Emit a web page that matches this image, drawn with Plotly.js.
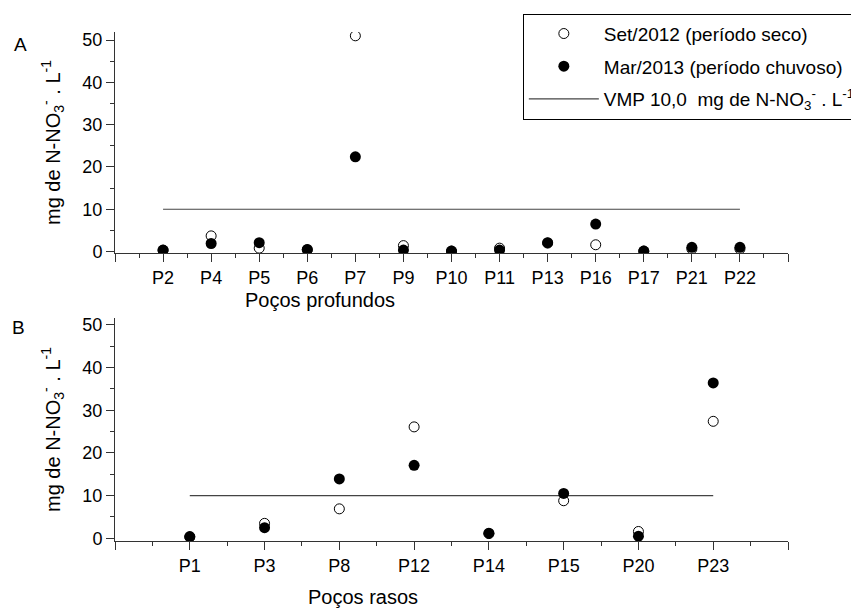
<!DOCTYPE html>
<html>
<head>
<meta charset="utf-8">
<script src="https://cdn.plot.ly/plotly-3.0.1.min.js"></script>
<style>html,body{margin:0;padding:0;background:#fff}#chart{width:851px;height:612px}</style>
</head>
<body>
<div id="chart"></div>
<script>
// Panel A: Poços profundos
const catsA = ['P2','P4','P5','P6','P7','P9','P10','P11','P13','P16','P17','P21','P22'];
const setA  = [0.3, 3.7, 0.8, 0.4, 51.0, 1.4, 0.1, 0.8, 2.0, 1.6, 0.1, 0.6, 0.6];
const marA  = [0.35, 1.9, 2.1, 0.5, 22.4, 0.35, 0.1, 0.35, 2.1, 6.5, 0.1, 1.0, 1.0];
// Panel B: Poços rasos
const catsB = ['P1','P3','P8','P12','P14','P15','P20','P23'];
const setB  = [0.3, 3.5, 6.9, 26.1, 1.1, 8.8, 1.6, 27.4];
const marB  = [0.4, 2.5, 13.9, 17.1, 1.2, 10.5, 0.5, 36.4];
// Valor máximo permitido
const VMP = 10;

const names = ['Set/2012 (período seco)', 'Mar/2013 (período chuvoso)',
  'VMP 10,0  mg de N-NO<sub>3</sub><sup>-</sup> . L<sup>-1</sup>'];

const FONT = 'Liberation Sans, Arial, sans-serif';
const posA = catsA.map((c, i) => i + 1);
const posB = catsB.map((c, i) => i + 1);

const openM = {symbol: 'circle', size: 10, color: '#ffffff', line: {color: '#000', width: 1}};
const fillM = {symbol: 'circle', size: 11, color: '#000000', line: {width: 0}};
const vmpLine = {color: '#444', width: 1.2};

const traces = [
  {x: posA, y: setA, type: 'scatter', mode: 'markers', name: names[0], marker: openM, xaxis: 'x', yaxis: 'y', legendgroup: 'g1', text: catsA},
  {x: posA, y: marA, type: 'scatter', mode: 'markers', name: names[1], marker: fillM, xaxis: 'x', yaxis: 'y', legendgroup: 'g2', text: catsA},
  {x: [posA[0], posA[posA.length - 1]], y: [VMP, VMP], type: 'scatter', mode: 'lines', name: names[2], line: vmpLine, xaxis: 'x', yaxis: 'y', legendgroup: 'g3'},
  {x: [posB[0], posB[posB.length - 1]], y: [VMP, VMP], type: 'scatter', mode: 'lines', name: names[2], line: vmpLine, xaxis: 'x2', yaxis: 'y2', legendgroup: 'g3', showlegend: false},
  {x: posB, y: setB, type: 'scatter', mode: 'markers', name: names[0], marker: openM, xaxis: 'x2', yaxis: 'y2', legendgroup: 'g1', showlegend: false, text: catsB},
  {x: posB, y: marB, type: 'scatter', mode: 'markers', name: names[1], marker: fillM, xaxis: 'x2', yaxis: 'y2', legendgroup: 'g2', showlegend: false, text: catsB}
];

function xAxis(cats, anchor) {
  const n = cats.length;
  const vals = [], txt = [], minor = [];
  for (let i = 0; i <= n + 1; i++) { vals.push(i); txt.push(i >= 1 && i <= n ? cats[i - 1] : ''); }
  for (let i = 0; i <= n; i++) minor.push(i + 0.5);
  return {
    anchor: anchor, domain: [0, 1], range: [0, n + 1],
    tickmode: 'array', tickvals: vals, ticktext: txt,
    ticks: 'outside', ticklen: 8, tickwidth: 1, tickcolor: '#333',
    minor: {tickmode: 'array', tickvals: minor, ticks: 'outside', ticklen: 4, tickwidth: 1, tickcolor: '#333'},
    showline: true, linecolor: '#333', linewidth: 1,
    showgrid: false, zeroline: false, automargin: false,
    tickfont: {family: FONT, size: 18, color: '#000'}
  };
}
function yAxis(domain, range, anchor) {
  return {
    anchor: anchor, domain: domain, range: range,
    tickmode: 'linear', tick0: 0, dtick: 10,
    ticks: 'outside', ticklen: 8, tickwidth: 1, tickcolor: '#333',
    minor: {tick0: 0, dtick: 5, ticks: 'outside', ticklen: 4, tickwidth: 1, tickcolor: '#333'},
    showline: true, linecolor: '#333', linewidth: 1,
    showgrid: false, zeroline: false, automargin: false,
    tickfont: {family: FONT, size: 18, color: '#000'},
    title: {text: 'mg de N-NO<sub>3</sub><sup>-</sup> . L<sup>-1</sup>', standoff: 16, font: {family: FONT, size: 20, color: '#000'}}
  };
}

const layout = {
  width: 851, height: 612,
  margin: {l: 115, r: 63, t: 32, b: 71, autoexpand: false},
  paper_bgcolor: '#fff', plot_bgcolor: '#fff',
  font: {family: FONT, size: 18, color: '#000'},
  xaxis: xAxis(catsA, 'y'),
  yaxis: yAxis([0.5658, 1], [-0.35, 51.9], 'x'),
  xaxis2: xAxis(catsB, 'y2'),
  yaxis2: yAxis([0, 0.4381], [-0.63, 51.6], 'x2'),
  showlegend: true,
  legend: {
    x: 0.606, y: 1.036, xanchor: 'left', yanchor: 'top',
    bgcolor: '#fff', bordercolor: '#000', borderwidth: 1,
    font: {family: FONT, size: 19, color: '#000'},
    itemwidth: 70, tracegroupgap: 5, traceorder: 'grouped'
  },
  annotations: [
    {text: 'A', xref: 'paper', yref: 'paper', x: -0.153, y: 0.9745, xanchor: 'left', yanchor: 'middle', showarrow: false, font: {family: FONT, size: 19, color: '#000'}},
    {text: 'B', xref: 'paper', yref: 'paper', x: -0.156, y: 0.4204, xanchor: 'left', yanchor: 'middle', showarrow: false, font: {family: FONT, size: 19, color: '#000'}},
    {text: 'Poços profundos', xref: 'paper', yref: 'paper', x: 0.3046, y: 0.474, xanchor: 'center', yanchor: 'middle', showarrow: false, font: {family: FONT, size: 20, color: '#000'}},
    {text: 'Poços rasos', xref: 'paper', yref: 'paper', x: 0.3685, y: -0.110, xanchor: 'center', yanchor: 'middle', showarrow: false, font: {family: FONT, size: 20, color: '#000'}}
  ]
};

Plotly.newPlot('chart', traces, layout, {displayModeBar: false, staticPlot: true});
</script>
</body>
</html>
